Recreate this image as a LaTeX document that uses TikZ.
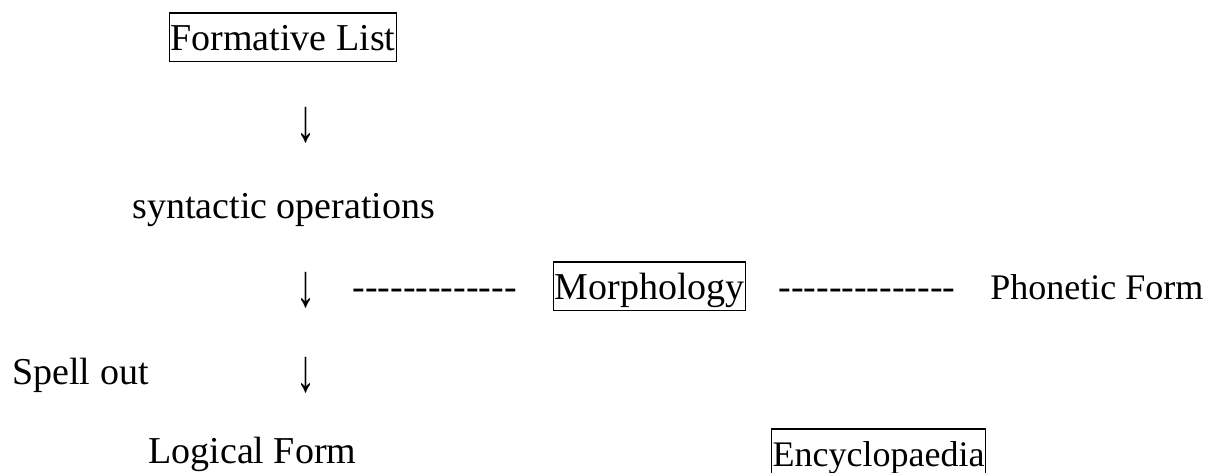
\documentclass[tikz,border=0pt]{standalone}
\usepackage{fontspec}
\setmainfont{Liberation Serif}
\usetikzlibrary{positioning}

\newcommand{\hyphenrun}[1]{\foreach \k in {1,...,#1}{-\kern0pt}}

\begin{document}
\begin{tikzpicture}[x=0.5pt, y=-0.5pt,
        every node/.style={font=\fontsize{19}{23}\selectfont, inner sep=0pt},
        word/.style={anchor=base west},
        boxed/.style={draw, line width=0.6pt, anchor=base west, inner xsep=0.5pt, inner ysep=1.5pt, text height=17pt, text depth=4.2pt},
        downarrow/.style={anchor=base}]
    \useasboundingbox (0,0) rectangle (1210,472);

    \node[boxed] (formlist) at (169,50) {Formative List};
    \node[downarrow] (arrA) at (306,141) {\scalebox{1}[1.6]{↓}};
    \node[word] (syntax) at (132,218) {syntactic operations};

    \node[downarrow] (arrB) at (306,306) {\scalebox{1}[1.6]{↓}};
    \node[word] (dashA) at (352,299) {\hyphenrun{13}};
    \node[boxed] (morph) at (553,299) {Morphology};
    \node[word] (dashB) at (778,299) {\hyphenrun{14}};
    \node[word, font=\fontsize{18}{22}\selectfont] (phonetic) at (990,299) {Phonetic Form};

    \node[word] (spell) at (12,384) {Spell out};
    \node[downarrow] (arrC) at (306,391) {\scalebox{1}[1.6]{↓}};

    \node[word] (logical) at (148,463) {Logical Form};
    \node[boxed, font=\fontsize{18}{22}\selectfont] (ency) at (771,466) {Encyclopaedia};
\end{tikzpicture}
\end{document}
